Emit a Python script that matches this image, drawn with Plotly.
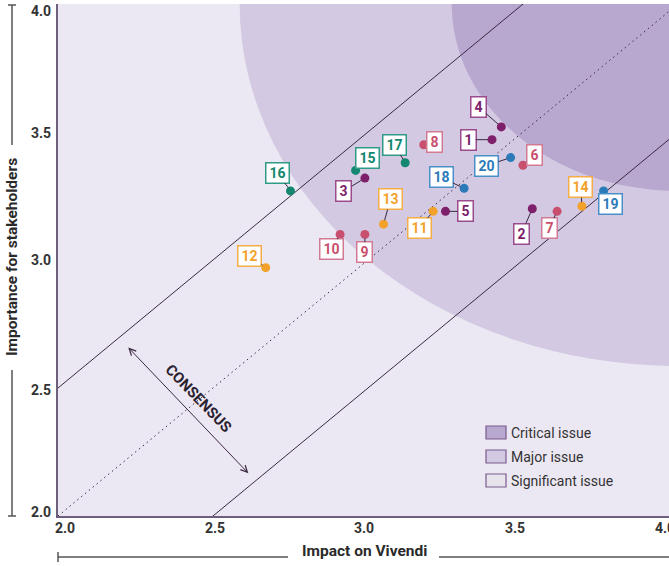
import plotly.graph_objects as go

# ---- data -------------------------------------------------------------
issues = [str(i) for i in range(1, 21)]
impact = [3.40, 3.53, 2.99, 3.43, 3.25, 3.50, 3.61, 3.18, 2.99, 2.91,
          3.21, 2.67, 3.05, 3.69, 2.96, 2.75, 3.12, 3.31, 3.76, 3.46]
importance = [3.47, 3.20, 3.32, 3.52, 3.19, 3.37, 3.19, 3.45, 3.10, 3.10,
              3.19, 2.97, 3.14, 3.21, 3.35, 3.27, 3.38, 3.28, 3.27, 3.40]
issue_group = [0, 0, 0, 0, 0, 1, 1, 1, 1, 1, 2, 2, 2, 2, 3, 3, 3, 4, 4, 4]

# consensus band: lines y = x + offset
band_offsets = [0.5, 0.0, -0.5]
# materiality zones, centred on (4, 4)
zone_names = ["Critical issue", "Major issue", "Significant issue"]
zone_radius = [0.73, 1.414]
tick_values = [2.0, 2.5, 3.0, 3.5, 4.0]

# ---- styling ----------------------------------------------------------
group_color = ["#7E1F6C", "#C8506E", "#F2A22A", "#13876F", "#2B7BB9"]
group_border = ["#9B4A8C", "#D27A92", "#F4AE45", "#2F9A85", "#4A90C8"]
zone_fill = ["#B8A8D0", "#D3C9E2", "#E6E4EA"]
bg = "#ECE8F3"
ink = "#3A2842"
axis_col = "#6E5F7D"
FONT = "Roboto, Liberation Sans, sans-serif"

# label box offsets (pixels) from each dot
label_offsets = [(-24, 0), (-11, 25), (-21, 13), (-23, -20), (20, 0),
                 (11, -10), (-8, 17), (11, -3), (0, 18), (-9, 15),
                 (-14, 17), (-16, -12), (7, -25), (-1, -19), (12, -12),
                 (-13, -18), (-11, -18), (-23, -11), (7, 13), (-24, 8)]

W, H = 669, 566
ML, MR, MT, MB = 58, 0, 4, 50
PX_PER_X = 310.0
x_max = 2.0 + (W - ML - MR) / PX_PER_X

fig = go.Figure()

# consensus band lines
for off in band_offsets:
    xs = [2.0, 4.0]
    ys = [x + off for x in xs]
    fig.add_trace(go.Scatter(
        x=xs, y=ys, mode="lines", hoverinfo="skip", showlegend=False,
        line=dict(color=ink, width=1,
                  dash="solid" if off != 0 else "1.5px,3.5px")))

# issue dots
for g in range(5):
    idx = [i for i, gg in enumerate(issue_group) if gg == g]
    fig.add_trace(go.Scatter(
        x=[impact[i] for i in idx], y=[importance[i] for i in idx],
        mode="markers", showlegend=False,
        marker=dict(size=9, color=group_color[g], line=dict(width=0))))

# zones (drawn under everything)
shapes = []
for r, col in zip(reversed(zone_radius), [zone_fill[1], zone_fill[0]]):
    shapes.append(dict(type="circle", xref="x", yref="y",
                       x0=4 - r, x1=4 + r, y0=4 - r, y1=4 + r,
                       fillcolor=col, line=dict(width=0), layer="below"))

annotations = []

# issue labels with connectors
for i, name in enumerate(issues):
    g = issue_group[i]
    ax, ay = label_offsets[i]
    annotations.append(dict(
        x=impact[i], y=importance[i], xref="x", yref="y",
        text=f"<b>{name}</b>", showarrow=True, ax=ax, ay=ay,
        arrowhead=0, arrowwidth=1, arrowcolor=ink, standoff=4,
        font=dict(family=FONT, size=14, color=group_color[g]),
        bgcolor="white", bordercolor=group_border[g], borderwidth=1.5,
        borderpad=1.5, width=19 if len(name) > 1 else 11, align="center"))

# consensus arrow and label
annotations.append(dict(
    x=2.614, y=2.167, ax=2.222, ay=2.664, xref="x", yref="y",
    axref="x", ayref="y", text="", showarrow=True, arrowhead=5,
    arrowside="end+start", arrowsize=1.3, arrowwidth=1, arrowcolor=ink))
annotations.append(dict(
    x=2.452, y=2.461, xref="x", yref="y", text="<b>CONSENSUS</b>",
    showarrow=False, textangle=46,
    font=dict(family=FONT, size=15, color="#2A2230")))


def px_x(p):
    return (p - ML) / (W - ML - MR)


def px_y(p):
    return (H - MB - p) / (H - MT - MB)


# tick labels
x_nudge = [7, 2, -4, -8, -13]
for v, dx in zip(tick_values, x_nudge):
    annotations.append(dict(
        x=(v - 2.0) / (x_max - 2.0), y=0, xref="paper", yref="paper",
        xanchor="center", yanchor="middle", yshift=-12, xshift=dx,
        text=f"<b>{v:.1f}</b>", showarrow=False,
        font=dict(family=FONT, size=14, color="#333333")))
y_nudge = [4, -2, 0, -1, -7]
for v, dy in zip(tick_values, y_nudge):
    annotations.append(dict(
        x=0, y=v, xref="paper", yref="y", xanchor="right", yanchor="middle",
        xshift=-5, yshift=dy, text=f"<b>{v:.1f}</b>", showarrow=False,
        font=dict(family=FONT, size=14, color="#333333")))

# axis titles
annotations.append(dict(
    x=px_x(364), y=px_y(551), xref="paper", yref="paper",
    xanchor="center", yanchor="middle",
    text="<b>Impact on Vivendi</b>", showarrow=False,
    font=dict(family=FONT, size=15.5, color="#2A2A2A")))
annotations.append(dict(
    x=px_x(12), y=px_y(257), xref="paper", yref="paper", textangle=-90,
    xanchor="center", yanchor="middle",
    text="<b>Importance for stakeholders</b>", showarrow=False,
    font=dict(family=FONT, size=15.5, color="#2A2A2A")))

# title rules
rule = dict(color="#555555", width=1.5)
for x0, y0, x1, y1 in [(12, 5, 12, 145), (8, 5, 16, 5),
                       (12, 370, 12, 516), (8, 516, 16, 516),
                       (58, 557, 288, 557), (58, 552, 58, 562),
                       (439, 557, 669, 557)]:
    shapes.append(dict(type="line", xref="paper", yref="paper",
                       x0=px_x(x0), y0=px_y(y0), x1=px_x(x1), y1=px_y(y1),
                       line=rule))

# legend
for k, name in enumerate(zone_names):
    top = 426 + 24 * k
    shapes.append(dict(type="rect", xref="paper", yref="paper",
                       x0=px_x(486), x1=px_x(506), y0=px_y(top), y1=px_y(top + 13),
                       fillcolor=zone_fill[k], line=dict(color="#7A5A8E", width=1.2)))
    annotations.append(dict(
        x=px_x(509), y=px_y(top + 6.5), xref="paper", yref="paper",
        xanchor="left", yanchor="middle", text=name, showarrow=False,
        font=dict(family=FONT, size=14, color="#333333")))

fig.update_layout(
    width=W, height=H, margin=dict(l=ML, r=MR, t=MT, b=MB),
    paper_bgcolor="white", plot_bgcolor=bg,
    shapes=shapes, annotations=annotations, showlegend=False,
    xaxis=dict(range=[2.0, x_max], showgrid=False, zeroline=False,
               showticklabels=False, ticks="", showline=True,
               linecolor=axis_col, linewidth=2),
    yaxis=dict(range=[2.0, 4.0], showgrid=False, zeroline=False,
               showticklabels=False, ticks="", showline=True,
               linecolor=axis_col, linewidth=2),
)

fig.write_html("out.html")
